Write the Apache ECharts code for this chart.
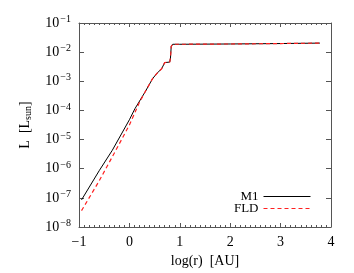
<!DOCTYPE html>
<html><head><meta charset="utf-8">
<script src="https://cdn.jsdelivr.net/npm/echarts@6/dist/echarts.min.js"></script>
<style>html,body{margin:0;padding:0;background:#fff}#c{width:354px;height:273px}</style>
</head><body><div id="c"></div>
<script>
// log10(r [AU]) and log10(L [Lsun])
var m1LogR = [-0.95, -0.6, -0.34, 0.0, 0.11, 0.31, 0.46, 0.55, 0.64, 0.70, 0.72, 0.80, 0.815, 0.83, 0.86, 1.0, 2.0, 3.0, 3.78];
var m1LogL = [-7.07, -6.07, -5.37, -4.32, -3.94, -3.37, -2.91, -2.72, -2.57, -2.36, -2.33, -2.34, -2.2, -1.8, -1.73, -1.73, -1.72, -1.705, -1.69];
var fldLogR = [-0.95, -0.6, -0.27, 0.0, 0.2, 0.31, 0.46, 0.55, 0.64, 0.70, 0.72, 0.80, 0.815, 0.83, 0.86, 1.0, 2.0, 3.0, 3.78];
var fldLogL = [-7.44, -6.42, -5.37, -4.5, -3.72, -3.37, -2.91, -2.72, -2.57, -2.36, -2.33, -2.34, -2.2, -1.8, -1.73, -1.73, -1.72, -1.705, -1.69];
var seriesNames = ['M1', 'FLD'];
var xTicks = [-1, 0, 1, 2, 3, 4];
var yTickExps = [-8, -7, -6, -5, -4, -3, -2, -1];

function pairs(xs, ys) { return xs.map(function (x, i) { return [x, Math.pow(10, ys[i])]; }); }
var F = 'Liberation Serif';
var axisCol = '#555';
var chart = echarts.init(document.getElementById('c'));
var legendCommon = {
  orient: 'vertical', right: 43, align: 'right',
  itemWidth: 47, itemHeight: 10, itemGap: 2, padding: 0,
  itemStyle: { opacity: 0 },
  lineStyle: { width: 1 },
  textStyle: { fontFamily: F, fontSize: 13, color: '#000' }
};
chart.setOption({
  animation: false,
  grid: { left: 79, right: 23, top: 23, bottom: 46 },
  xAxis: [{
    type: 'value', min: -1, max: 4, interval: 1, position: 'bottom',
    name: 'log(r)  [AU]', nameLocation: 'middle', nameGap: 27,
    nameTextStyle: { fontFamily: F, fontSize: 14, color: '#000' },
    axisLine: { onZero: false, lineStyle: { color: axisCol, width: 1 } },
    axisTick: { inside: true, length: 4, lineStyle: { color: axisCol } },
    minorTick: { show: true, splitNumber: 10, length: 2, lineStyle: { color: axisCol } },
    splitLine: { show: false },
    axisLabel: { fontFamily: F, fontSize: 14, color: '#000', margin: 8,
      formatter: function (v) { return xTicks.indexOf(v) >= 0 ? String(v).replace('-', '\u2212') : ''; } }
  }, {
    type: 'value', min: -1, max: 4, interval: 1, position: 'top',
    axisLine: { onZero: false, lineStyle: { color: axisCol, width: 1 } },
    axisTick: { inside: true, length: 4, lineStyle: { color: axisCol } },
    minorTick: { show: true, splitNumber: 10, length: 2, lineStyle: { color: axisCol } },
    splitLine: { show: false }, axisLabel: { show: false }
  }],
  yAxis: [{
    type: 'log', logBase: 10, min: 1e-8, max: 1e-1, position: 'left',
    name: '{n|L  [L}{sub|sun}{n|]}', nameLocation: 'middle', nameGap: 46, nameRotate: 90,
    nameTextStyle: { rich: { n: { fontFamily: F, fontSize: 14, color: '#000' },
                             sub: { fontFamily: F, fontSize: 10, color: '#000', padding: [5, 0, 0, 0] } } },
    axisLine: { onZero: false, lineStyle: { color: axisCol, width: 1 } },
    axisTick: { inside: true, length: 5, lineStyle: { color: axisCol } },
    splitLine: { show: false },
    axisLabel: { margin: 8, formatter: function (v) {
        var e = Math.round(Math.log10(v));
        return '{b|10}{s|' + String(e).replace('-', '\u2212') + '}';
      },
      rich: { b: { fontFamily: F, fontSize: 14, color: '#000' },
              s: { fontFamily: F, fontSize: 10, color: '#000', padding: [0, 0, 7, 1] } } }
  }, {
    type: 'log', logBase: 10, min: 1e-8, max: 1e-1, position: 'right',
    axisLine: { onZero: false, lineStyle: { color: axisCol, width: 1 } },
    axisTick: { inside: true, length: 5, lineStyle: { color: axisCol } },
    splitLine: { show: false }, axisLabel: { show: false }
  }],
  legend: [
    Object.assign({ data: [seriesNames[0]], top: 190 }, legendCommon),
    Object.assign({ data: [seriesNames[1]], top: 202 }, legendCommon)
  ],
  series: [{
    name: seriesNames[0], type: 'line', symbol: 'none', data: pairs(m1LogR, m1LogL),
    lineStyle: { color: '#000', width: 1 }, itemStyle: { color: '#000' }
  }, {
    name: seriesNames[1], type: 'line', symbol: 'none', data: pairs(fldLogR, fldLogL),
    lineStyle: { color: '#ff2020', width: 1.2, type: [4, 3] }, itemStyle: { color: '#ff2020' }
  }]
});
</script></body></html>
